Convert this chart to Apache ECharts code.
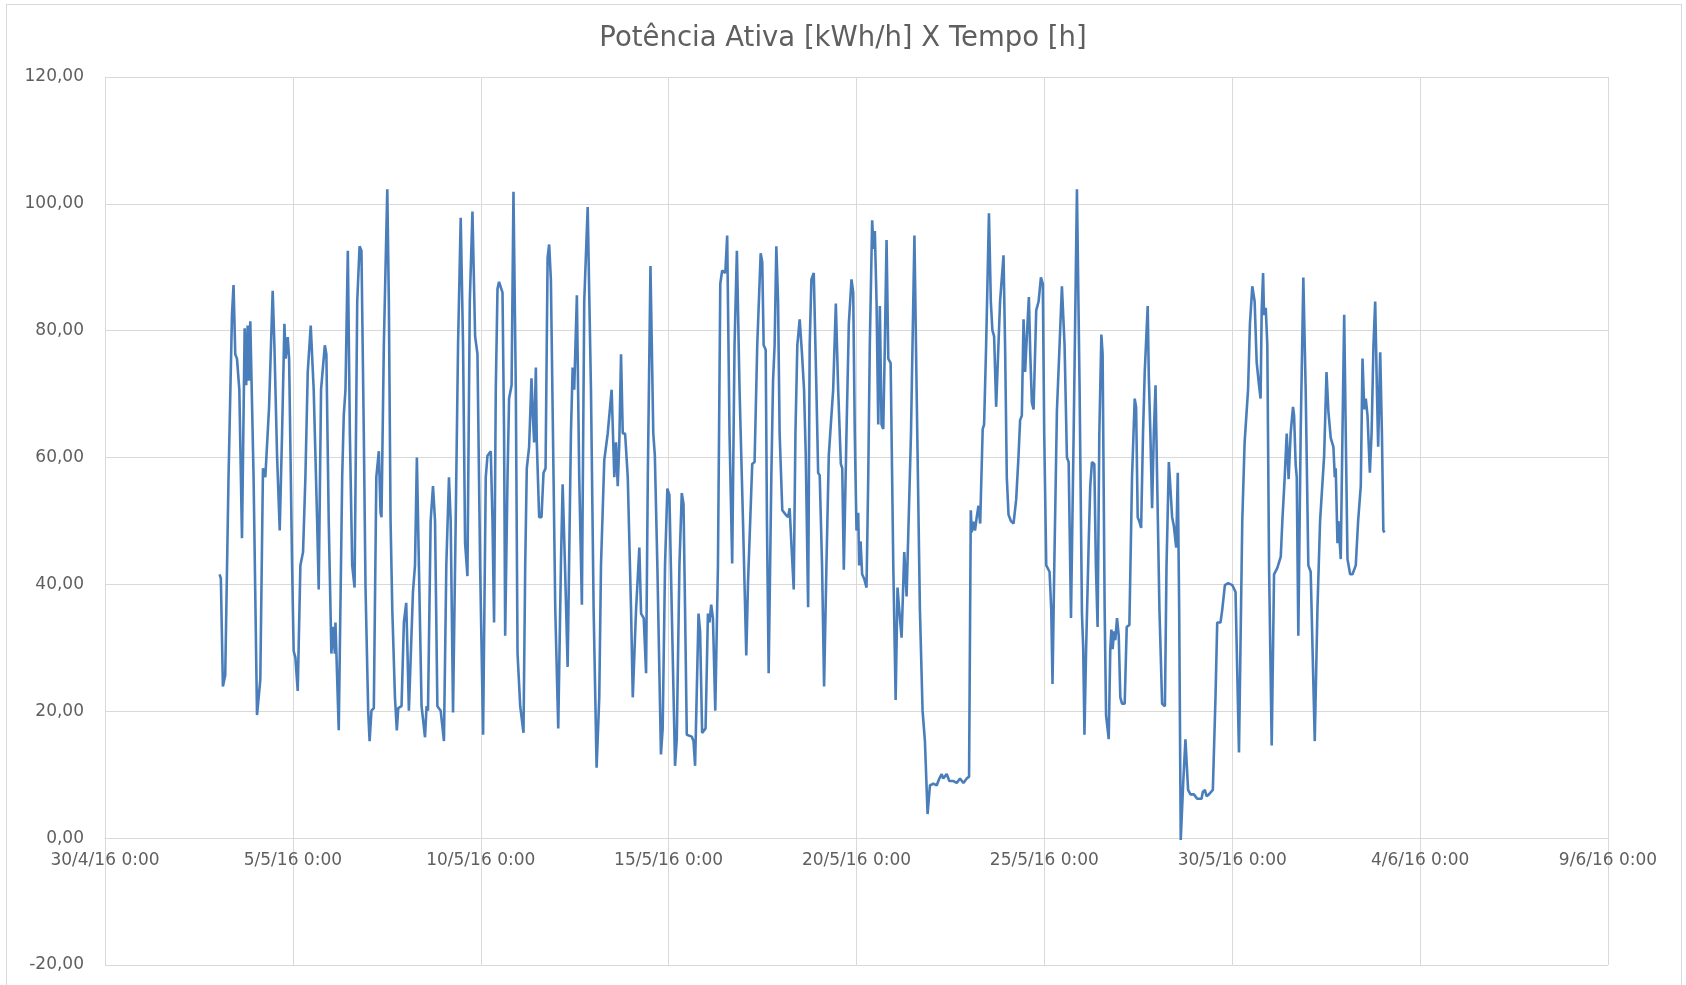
<!DOCTYPE html>
<html lang="pt">
<head>
    <meta charset="UTF-8">
    <title>Potência Ativa X Tempo</title>
    <script src="https://cdn.jsdelivr.net/npm/echarts@6/dist/echarts.min.js"></script>
    <style>
        html, body { margin: 0; padding: 0; background: #fff; }
        #frame { position: absolute; left: 6px; top: 4px; width: 1676px; height: 990px; border: 1px solid #d9d9d9; box-sizing: border-box; }
        #grafico { position: absolute; left: 0; top: 0; width: 1686px; height: 985px; }
    </style>
</head>
<body>
<div id="frame"></div>
<div id="grafico"></div>
<script>
    // horas desde 30/4/16 0:00
    var hours = [
        73.2, 74.0, 75.3, 76.8, 78.9, 81.1, 82.1, 83.2, 84.3, 85.8, 87.5, 89.2, 90.2, 91.1, 91.9, 92.8,
        94.9, 97.1, 99.2, 100.9, 102.4, 104.8, 107.1, 108.2, 109.9, 111.6, 113.1, 114.6, 115.4, 116.7, 117.6,
        119.5, 120.5, 121.6, 123.1, 124.8, 126.5, 128.0, 129.5, 131.4, 133.3, 135.5, 136.5, 138.0, 140.4,
        141.4, 142.9, 144.6, 145.7, 146.8, 147.2, 149.3, 151.5, 152.5, 153.6, 155.1, 156.4, 157.9, 159.4,
        161.1, 162.6, 163.8, 165.3, 166.4, 168.1, 169.0, 170.2, 171.7, 173.3, 174.9, 176.0, 176.6, 178.1,
        180.3, 181.3, 182.4, 183.5, 185.2, 186.4, 187.3, 189.4, 190.9, 192.4, 193.1, 194.1, 195.2, 196.7,
        198.0, 199.2, 200.5, 202.2, 204.4, 205.4, 206.3, 208.0, 209.5, 210.8, 212.3, 214.4, 216.5, 218.0,
        219.7, 220.8, 222.3, 224.0, 225.5, 227.2, 228.7, 230.0, 231.5, 233.0, 234.7, 236.4, 237.9, 239.6,
        241.5, 243.2, 244.3, 246.4, 247.5, 248.5, 249.6, 250.7, 251.7, 253.9, 254.9, 255.6, 257.1, 258.1,
        259.7, 260.9, 262.4, 263.5, 265.2, 267.3, 268.4, 269.4, 270.9, 272.4, 273.3, 274.1, 275.2, 275.8,
        277.3, 278.8, 280.1, 281.4, 282.7, 283.7, 284.8, 286.5, 287.6, 289.5, 291.2, 292.3, 293.8, 295.5,
        297.6, 298.7, 299.7, 301.4, 302.9, 304.6, 306.1, 308.3, 310.4, 312.1, 314.0, 315.7, 316.8, 318.9,
        321.1, 323.6, 325.3, 326.4, 327.5, 328.5, 329.6, 330.7, 332.2, 333.9, 336.0, 337.1, 339.2, 341.3,
        342.4, 344.1, 345.6, 346.7, 348.4, 350.2, 351.2, 352.8, 355.1, 356.2, 357.7, 359.2, 360.5, 362.0,
        364.1, 365.2, 366.9, 368.4, 369.5, 370.5, 371.6, 374.8, 375.9, 376.9, 379.1, 380.1, 381.4, 383.6,
        385.1, 386.1, 387.2, 388.3, 389.8, 391.5, 393.0, 394.2, 396.2, 397.4, 398.9, 400.6, 402.1, 403.6,
        405.3, 407.5, 409.6, 410.7, 411.7, 413.4, 414.9, 416.6, 418.8, 419.8, 420.7, 422.0, 422.8, 423.9,
        425.6, 426.7, 427.7, 428.8, 429.9, 430.9, 432.6, 434.8, 436.3, 437.3, 438.4, 439.9, 441.0, 442.2,
        443.7, 445.2, 446.5, 447.6, 449.1, 450.1, 451.2, 452.7, 454.4, 455.5, 456.5, 458.0, 459.3, 460.8,
        462.3, 463.6, 465.1, 466.8, 468.3, 470.0, 470.9, 471.9, 473.6, 475.1, 476.8, 477.9, 478.9, 480.0,
        481.1, 481.7, 482.6, 483.6, 484.9, 486.4, 487.5, 488.5, 490.0, 490.9, 491.7, 492.8, 493.9, 494.9,
        496.0, 497.1, 498.1, 499.2, 500.3, 501.8, 503.5, 505.0, 506.2, 507.3, 508.8, 510.5, 512.0, 513.1,
        514.8, 517.0, 518.4, 520.5, 522.2, 523.7, 525.4, 526.9, 529.1, 531.2, 532.9, 534.4, 535.4, 537.6,
        539.3, 541.9, 544.0, 546.1, 548.3, 550.4, 551.9, 553.0, 553.6, 554.7, 555.7, 556.8, 557.9, 559.0,
        560.6, 561.5, 562.8, 564.6, 565.8, 566.8, 567.9, 569.2, 570.2, 571.7, 573.9, 574.9, 576.0, 577.1,
        578.6, 580.3, 582.0, 583.5, 584.5, 585.6, 586.7, 587.7, 588.8, 590.1, 591.0, 592.0, 593.1, 594.8,
        596.3, 597.8, 599.0, 599.9, 601.2, 603.3, 604.4, 605.2, 606.3, 608.0, 609.7, 611.2, 612.9, 614.4,
        615.5, 617.0, 618.7, 620.8, 622.5, 624.0, 624.8, 625.6, 626.6, 628.3, 629.3, 630.4, 631.9, 632.9,
        634.0, 635.1, 636.4, 637.2, 638.5, 639.4, 641.1, 642.1, 642.8, 643.6, 644.5, 645.3, 646.4, 647.5,
        648.5, 649.6, 651.3, 652.6, 654.3, 656.0, 657.7, 658.6, 659.6, 660.7, 661.8, 663.0, 664.1, 665.2,
        666.0, 666.7, 667.7, 668.8, 669.9, 671.0, 672.0, 673.5, 675.2, 677.0, 678.0, 679.5, 680.6, 681.6,
        682.7, 684.2, 685.2, 686.1, 687.1, 688.6, 690.1, 691.8, 693.3, 695.5, 697.6, 700.4, 701.2, 702.5,
        703.6, 705.1, 707.6, 709.3, 710.4, 712.5, 713.6, 715.3, 717.4, 720.0, 722.1, 724.3, 726.4, 727.9,
        730.1, 731.3, 732.8, 734.3, 735.6, 737.1, 738.1, 738.8, 739.7, 740.3, 741.4, 742.4, 743.5, 745.2,
        746.7, 748.8, 751.0, 752.0, 753.5, 754.8, 756.0, 757.3, 758.8, 759.5, 760.5, 761.2, 762.2, 763.7,
        765.4, 766.9, 768.6, 770.1, 772.7, 774.4, 776.1, 778.7, 780.2, 781.4, 782.9, 784.6, 785.5, 786.1,
        787.2, 787.8, 789.3, 790.4, 791.5, 792.5, 793.6, 795.3, 796.8, 798.9, 800.4, 802.1, 803.2, 804.3,
        805.3, 806.4, 807.9, 809.0, 810.2, 811.3, 812.4, 813.2, 814.5, 815.6, 816.5, 817.3
    ];

    // potência ativa [kWh/h]
    var power = [
        41.6, 40.9, 23.9, 25.7, 56.9, 82.5, 87.2, 76.3, 75.6, 70.7, 47.3, 80.4, 71.4, 80.8, 72.1, 81.5,
        56.9, 19.4, 25.0, 58.3, 56.9, 68.0, 86.3, 77.7, 60.3, 48.5, 63.8, 81.1, 75.6, 79.0, 75.6,
        43.0, 29.5, 28.5, 23.2, 43.0, 45.1, 56.9, 73.5, 80.8, 70.7, 50.0, 39.2, 70.7, 77.7,
        76.3, 50.0, 29.1, 33.3, 29.1, 34.0, 17.0, 56.9, 66.6, 70.7, 92.6, 63.8, 43.0, 39.5,
        84.6, 93.3, 92.6, 63.8, 39.5, 20.1, 15.3, 20.1, 20.5, 56.9, 61.0, 51.3, 50.6, 77.7,
        102.3, 84.6, 50.0, 36.0, 22.2, 17.0, 20.5, 20.8, 34.0, 37.1, 30.5, 20.1, 20.1, 38.8,
        43.0, 60.0, 43.0, 20.8, 15.9, 20.8, 20.1, 50.0, 55.5, 50.0, 20.8, 20.1, 15.3, 43.0,
        56.9, 50.0, 19.8, 50.0, 77.7, 97.8, 77.7, 46.5, 41.3, 84.6, 98.8, 79.1, 76.3, 43.0,
        16.3, 56.9, 60.3, 61.0, 50.0, 34.0, 70.7, 86.6, 87.7, 86.0, 63.8, 31.9, 56.9, 69.3,
        71.4, 101.9, 70.7, 29.1, 20.8, 16.6, 43.0, 58.3, 61.7, 72.5, 66.6, 62.4, 74.2, 62.4,
        50.6, 50.6, 57.6, 58.3, 91.5, 93.6, 88.0, 56.9, 36.0, 17.3, 43.0, 55.8, 43.0, 27.0,
        63.8, 74.2, 70.7, 85.6, 56.9, 36.8, 84.6, 99.5, 70.7, 36.0, 11.1, 22.2, 43.0, 59.6,
        63.8, 70.7, 56.9, 62.4, 55.5, 62.4, 76.3, 63.8, 63.8, 56.9, 36.0, 22.2, 36.0, 45.8,
        35.4, 34.7, 26.0, 56.9, 90.2, 63.8, 60.3, 43.0, 13.2, 17.3, 43.0, 55.1, 54.1, 36.0,
        11.4, 15.6, 43.0, 54.4, 52.7, 36.0, 16.3, 16.0, 15.3, 11.4, 35.4, 32.6, 16.6, 17.3,
        35.4, 34.0, 36.8, 34.7, 20.1, 43.0, 87.4, 89.5, 89.1, 95.0, 63.8, 43.3, 77.7, 92.6,
        70.7, 50.0, 28.8, 40.2, 40.2, 59.0, 59.3, 77.7, 92.2, 90.8, 77.7, 77.0, 50.0, 26.0,
        56.9, 72.1, 77.7, 93.3, 84.6, 63.8, 51.7, 51.0, 50.6, 52.0, 46.5, 39.2, 63.8, 77.7,
        81.8, 76.3, 70.7, 60.3, 36.4, 77.7, 88.1, 89.1, 70.7, 57.6, 57.2, 43.0, 23.9, 43.0,
        60.3, 65.2, 70.7, 84.3, 70.7, 59.0, 58.3, 42.3, 63.8, 81.1, 88.1, 86.0, 63.8, 48.5,
        51.3, 43.0, 46.8, 41.6, 40.9, 39.5, 56.9, 77.7, 97.4, 92.9, 95.7, 84.6, 65.2, 83.9,
        65.2, 64.5, 77.7, 94.3, 75.6, 74.9, 43.0, 21.8, 39.5, 36.0, 31.6, 45.1, 38.1, 38.1,
        63.8, 95.0, 70.7, 36.0, 20.1, 15.3, 3.8, 8.3, 8.6, 8.3, 9.4, 10.1, 9.4, 10.1,
        9.0, 9.0, 8.7, 9.4, 8.7, 9.4, 9.7, 51.7, 48.2, 49.9, 48.5, 50.6, 52.4, 49.6,
        64.5, 65.2, 77.7, 98.5, 84.6, 80.1, 79.1, 68.0, 68.0, 84.6, 91.9, 77.7, 56.9, 51.0,
        50.0, 49.6, 53.4, 60.3, 65.9, 66.6, 81.8, 73.5, 79.1, 85.3, 76.3, 68.7, 67.6, 83.2,
        84.6, 88.4, 87.4, 63.8, 43.0, 42.0, 36.0, 24.3, 42.3, 67.3, 77.7, 87.0, 77.7, 60.0,
        59.3, 34.7, 63.8, 102.3, 70.7, 35.4, 30.0, 16.3, 29.1, 46.5, 55.5, 59.3, 59.0, 43.0,
        33.3, 63.8, 79.4, 76.3, 36.0, 19.4, 15.6, 29.8, 32.9, 29.8, 32.6, 31.2, 34.7, 31.9,
        22.2, 21.2, 21.2, 33.3, 33.6, 57.0, 69.3, 67.9, 50.6, 49.9, 48.9, 63.8, 73.5, 73.2,
        83.9, 72.8, 63.8, 52.0, 63.8, 71.4, 56.9, 36.0, 21.2, 20.8, 42.7, 59.3, 59.0, 50.6,
        49.2, 45.8, 57.6, 36.0, -0.3, 8.3, 15.6, 7.6, 6.9, 6.9, 6.2, 6.2, 7.3, 7.6,
        6.6, 6.9, 7.6, 22.2, 34.0, 34.0, 36.0, 39.9, 40.2, 39.9, 38.8, 13.5, 50.0, 62.4,
        70.7, 81.1, 87.0, 84.6, 75.0, 71.4, 69.3, 83.2, 89.1, 82.5, 83.6, 77.7, 43.0, 14.6,
        41.6, 42.6, 44.4, 50.0, 56.9, 63.8, 56.6, 63.8, 68.0, 66.6, 58.9, 56.9, 31.9, 63.8,
        88.4, 70.7, 43.0, 42.0, 15.3, 36.0, 50.0, 60.3, 73.5, 67.3, 63.1, 61.7, 56.9, 58.3,
        46.5, 50.0, 44.0, 63.8, 82.5, 63.8, 44.0, 41.6, 41.6, 43.0, 50.0, 55.5, 75.6, 67.6,
        69.3, 66.6, 57.6, 63.8, 77.7, 84.6, 70.7, 61.7, 76.6, 63.8, 48.5, 48.2
    ];

    var yTicks = { min: -20, max: 120, step: 20 };
    var xTicks = { min: 0, max: 960, step: 120 };   // 30/4/16 a 9/6/16, de 5 em 5 dias

    var fonte = 'DejaVu Sans';
    var cinza = '#5f5f5f';
    var grade = '#d9d9d9';

    function rotuloData(h) {
        var d = new Date(2016, 3, 30, 0, 0);
        d.setTime(d.getTime() + h * 3600 * 1000);
        var mm = d.getMinutes() < 10 ? '0' + d.getMinutes() : d.getMinutes();
        return d.getDate() + '/' + (d.getMonth() + 1) + '/' + String(d.getFullYear()).slice(2) + ' ' + d.getHours() + ':' + mm;
    }

    var dados = hours.map(function (h, i) { return [h, power[i]]; });

    var alturaGrade = 985 - 77 - 20;
    // o eixo X cruza o eixo Y no zero
    var deslocZero = -alturaGrade * (0 - yTicks.min) / (yTicks.max - yTicks.min);

    var myChart = echarts.init(document.getElementById('grafico'), null, { renderer: 'canvas' });
    myChart.setOption({
        animation: false,
        backgroundColor: 'transparent',
        title: {
            text: 'Potência Ativa [kWh/h] X Tempo [h]',
            left: 'center',
            top: 20,
            textStyle: { fontFamily: fonte, fontSize: 27.5, fontWeight: 'normal', color: cinza }
        },
        grid: { left: 105, right: 78, top: 77, bottom: 20 },
        xAxis: {
            type: 'value',
            min: xTicks.min,
            max: xTicks.max,
            interval: xTicks.step,
            position: 'bottom',
            offset: deslocZero,
            axisLine: { show: true, onZero: false, lineStyle: { color: grade, width: 1 } },
            axisTick: { show: false },
            axisLabel: {
                color: cinza, fontFamily: fonte, fontSize: 17, margin: 14,
                formatter: rotuloData
            },
            splitLine: { show: true, lineStyle: { color: grade, width: 1 } }
        },
        yAxis: {
            type: 'value',
            min: yTicks.min,
            max: yTicks.max,
            interval: yTicks.step,
            axisLine: { show: false },
            axisTick: { show: false },
            axisLabel: {
                color: cinza, fontFamily: fonte, fontSize: 17, margin: 21,
                formatter: function (v) { return v.toFixed(2).replace('.', ','); }
            },
            splitLine: { show: true, lineStyle: { color: grade, width: 1 } }
        },
        series: [{
            name: 'Potência Ativa',
            type: 'line',
            data: dados,
            showSymbol: false,
            symbol: 'none',
            lineStyle: { color: '#4a7ebb', width: 2.6 },
            itemStyle: { color: '#4a7ebb' }
        }]
    });
</script>
</body>
</html>
